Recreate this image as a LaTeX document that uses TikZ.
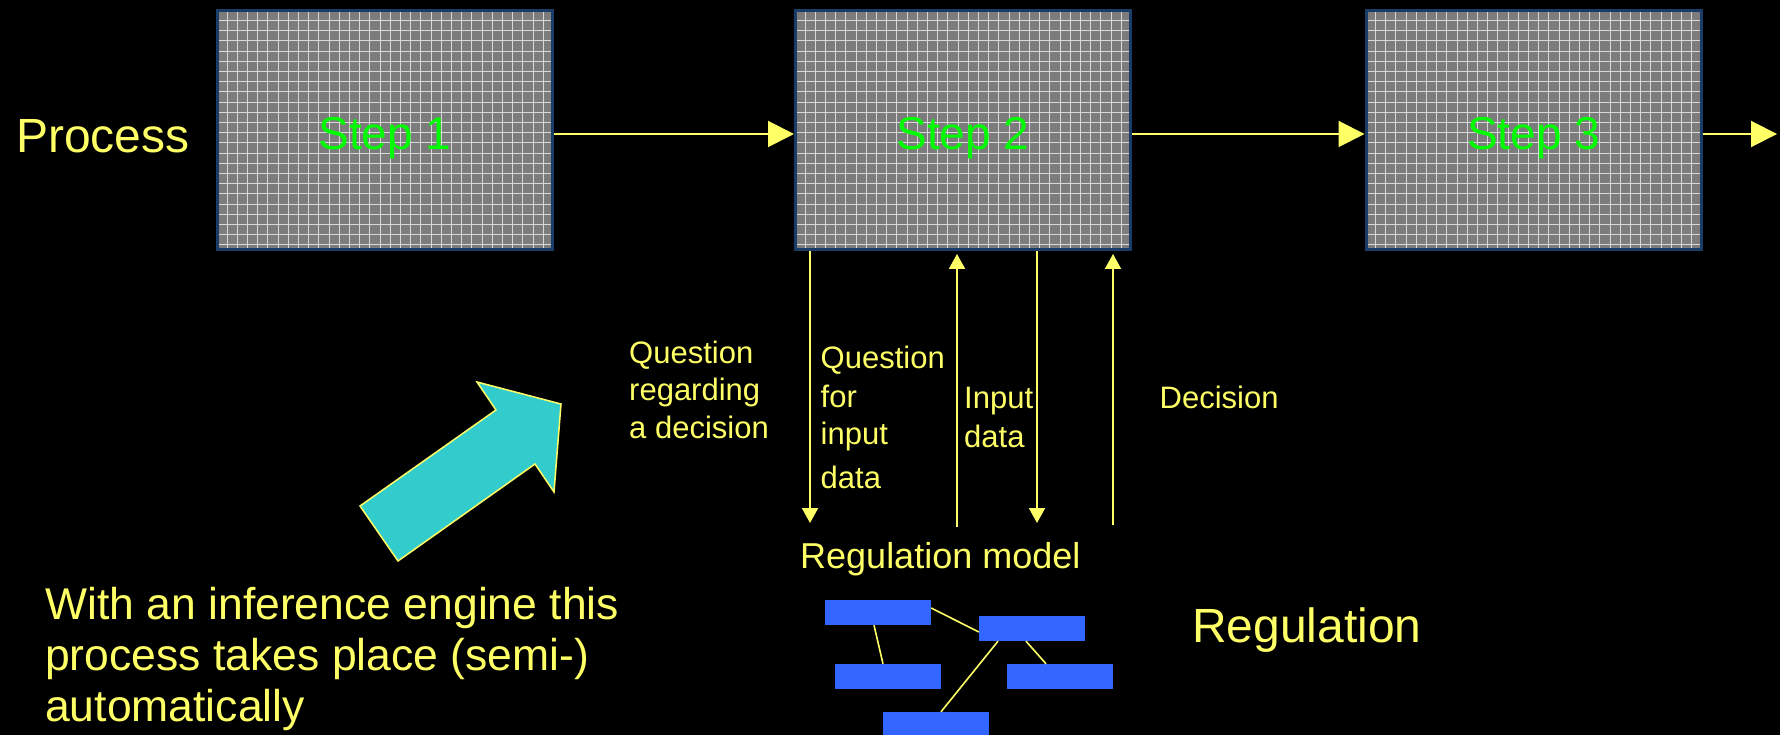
\documentclass[tikz,border=0pt]{standalone}
\usepackage{fontspec}
\setmainfont{Liberation Sans}
\usetikzlibrary{arrows.meta,calc}
\definecolor{ylw}{HTML}{FFFF66}
\definecolor{stepgreen}{HTML}{00FF00}
\definecolor{boxgray}{HTML}{7C7C7C}
\definecolor{gridwhite}{HTML}{D8D8D8}
\definecolor{boxedge}{RGB}{25,60,105}
\definecolor{cyanarrow}{HTML}{33CCCC}
\definecolor{modelblue}{HTML}{3366FF}
\begin{document}
\begin{tikzpicture}[x=1pt,y=-1pt,
  gridline/.style={draw=gridwhite, line width=0.9pt},
  stepbox/.style={draw=boxedge, line width=3pt, fill=boxgray, minimum width=335pt, minimum height=239pt, inner sep=0pt,
    path picture={
      \foreach \i in {0,...,32}{\draw[gridline] ([xshift={9.5pt+\i*10.2pt}]path picture bounding box.north west) -- ([xshift={9.5pt+\i*10.2pt}]path picture bounding box.south west);}
      \foreach \j in {0,...,23}{\draw[gridline] ([yshift={-10pt-\j*10.2pt}]path picture bounding box.north west) -- ([yshift={-10pt-\j*10.2pt}]path picture bounding box.north east);}
    }},
  steplabel/.style={text=stepgreen, font=\fontsize{46}{55}\selectfont, inner sep=0pt, anchor=base},
  bigtxt/.style={text=ylw, font=\fontsize{48}{57}\selectfont, inner sep=0pt, anchor=base west},
  midtxt/.style={text=ylw, font=\fontsize{44.5}{51}\selectfont, inner sep=0pt, anchor=base west},
  modeltxt/.style={text=ylw, font=\fontsize{36}{43}\selectfont, inner sep=0pt, anchor=base west},
  smalltxt/.style={text=ylw, font=\fontsize{31}{37}\selectfont, inner sep=0pt, anchor=base west},
  flow/.style={draw=ylw, line width=2pt, -{Triangle[length=26pt,width=26pt]}},
  vflow/.style={draw=ylw, line width=2pt, -{Triangle[length=15pt,width=16pt]}},
  modelbox/.style={fill=modelblue, minimum width=106pt, minimum height=25pt, inner sep=0pt},
  link/.style={draw=ylw, line width=1.6pt}
]
\useasboundingbox (0,0) rectangle (1780,735);
\fill[black] (0,0) rectangle (1780,735);

% process steps
\node[stepbox] (s1) at (385,130) {};
\node[stepbox] (s2) at (963,130) {};
\node[stepbox] (s3) at (1533.5,130) {};
\node[steplabel] (l1) at (385,150) {Step 1};
\node[steplabel] (l2) at (963,150) {Step 2};
\node[steplabel] (l3) at (1533.5,150) {Step 3};

\node[bigtxt] (proc) at (16,153) {Process};

% horizontal flow
\coordinate (out) at (1777,134);
\draw[flow] ([yshift=-4pt]s1.east) -- ([yshift=-4pt]s2.west);
\draw[flow] ([yshift=-4pt]s2.east) -- ([yshift=-4pt]s3.west);
\draw[flow] ([yshift=-4pt]s3.east) -- (out);

% vertical arrows
\coordinate (qd) at (810,523);
\coordinate (iu) at (957,527);
\coordinate (dd) at (1037,523);
\coordinate (du) at (1113,525);
\draw[vflow] (s2.south -| qd) -- (qd);
\draw[vflow, shorten >=3pt] (iu) -- (iu |- s2.south);
\draw[vflow] (s2.south -| dd) -- (dd);
\draw[vflow, shorten >=3pt] (du) -- (du |- s2.south);

% labels
\node[smalltxt] (qr1) at (629,363) {Question};
\node[smalltxt] (qr2) at (629,400) {regarding};
\node[smalltxt] (qr3) at (629,438) {a decision};

\node[smalltxt] (qi1) at (820.5,368) {Question};
\node[smalltxt] (qi2) at (820.5,407) {for};
\node[smalltxt] (qi3) at (820.5,444) {input};
\node[smalltxt] (qi4) at (820.5,488) {data};

\node[smalltxt] (in1) at (964,408) {Input};
\node[smalltxt] (in2) at (964,447) {data};

\node[smalltxt] (dec) at (1159.5,408) {Decision};

\node[modeltxt] (rm) at (800,568) {Regulation model};
\node[bigtxt] (reg) at (1192,642) {Regulation};

\node[midtxt] (w1) at (45,619) {With an inference engine this};
\node[midtxt] (w2) at (45,670) {process takes place (semi-)};
\node[midtxt] (w3) at (45,721) {automatically};

% cyan block arrow
\draw[fill=cyanarrow, draw=ylw, line width=1.5pt, line join=miter]
  (360,506) -- (398,561) -- (535,464) -- (554,492) -- (561,404) -- (477,382) -- (496,410) -- cycle;

% regulation model boxes
\node[modelbox] (b1) at (878,612.5) {};
\node[modelbox] (b2) at (1032,628.5) {};
\node[modelbox] (b3) at (888,676.5) {};
\node[modelbox] (b4) at (1060,676.5) {};
\node[modelbox] (b5) at (936,724.5) {};
\draw[link] ([yshift=4.5pt]b1.east) -- ([yshift=-3.5pt]b2.west);
\draw[link] ([xshift=-4pt]b1.south) -- ([xshift=-5pt]b3.north);
\draw[link] ([xshift=-34pt]b2.south) -- ([xshift=5pt]b5.north);
\draw[link] ([xshift=-6pt]b2.south) -- ([xshift=-14pt]b4.north);
\end{tikzpicture}
\end{document}
